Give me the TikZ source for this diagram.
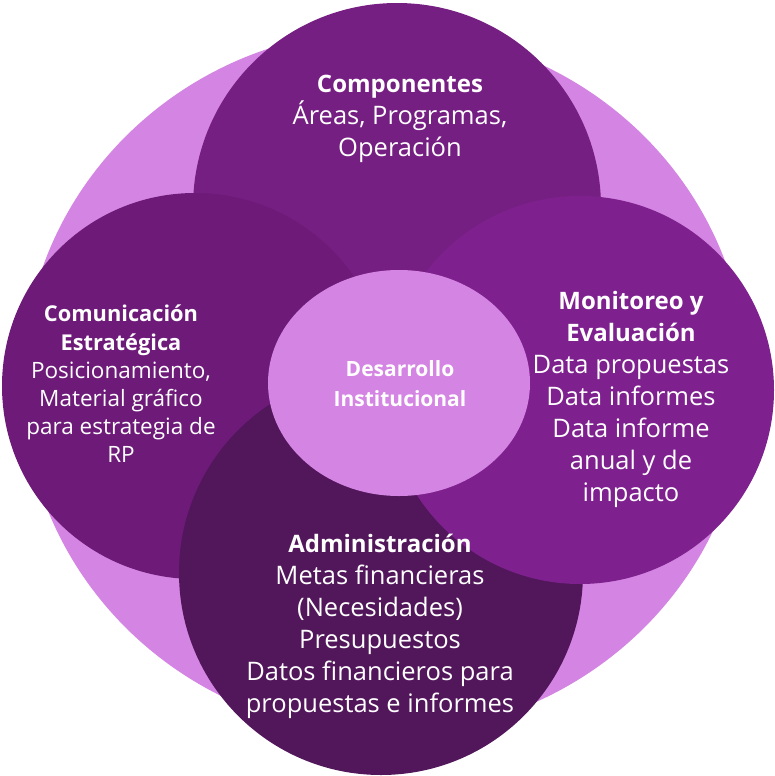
\documentclass[tikz,border=0pt]{standalone}
\usepackage{fontspec}
\setmainfont{Open Sans}
\definecolor{lilac}{HTML}{D484E2}
\definecolor{plumTop}{HTML}{761F82}
\definecolor{plumLeft}{HTML}{6D1A79}
\definecolor{plumRight}{HTML}{7E208E}
\definecolor{plumBottom}{HTML}{52165B}
\newcommand{\bighead}[1]{{\bfseries\fontsize{24}{32}\selectfont #1}}
\newcommand{\smallhead}[1]{{\bfseries\fontsize{21.8}{28.2}\selectfont #1}}

\begin{document}
\begin{tikzpicture}[x=1pt, y=-1pt, every node/.style={align=center, text=white, inner sep=0pt},
    bigtxt/.style={font=\fontsize{25.5}{32}\selectfont},
    smalltxt/.style={font=\fontsize{22.5}{28.2}\selectfont}]
    \useasboundingbox (0,0) rectangle (775,776);
    % backdrop and the four overlapping circles
    \fill[lilac] (385,382) ellipse [x radius=362pt, y radius=352pt];
    \fill[plumTop] (397,207) circle [radius=204pt];
    \fill[plumLeft] (195,386) circle [radius=193pt];
    \fill[plumBottom] (381,573) circle [radius=202pt];
    \fill[plumRight] (580,390) circle [radius=194pt];
    \fill[lilac] (399,383) ellipse [x radius=131pt, y radius=113pt];
    % labels
    \node[bigtxt] (comp) at (400,119) {\bighead{Componentes}\\Áreas, Programas,\\Operación};
    \node[smalltxt] (comm) at (121,384) {\smallhead{Comunicación}\\\smallhead{Estratégica}\\Posicionamiento,\\Material gráfico\\para estrategia de\\RP};
    \node[bigtxt] (moni) at (631,399) {\bighead{Monitoreo y}\\\bighead{Evaluación}\\Data propuestas\\Data informes\\Data informe\\anual y de\\impacto};
    \node[bigtxt] (admin) at (380,626) {\bighead{Administración}\\Metas financieras\\(Necesidades)\\Presupuestos\\Datos financieros para\\propuestas e informes};
    \node[font=\bfseries\fontsize{21}{30}\selectfont] (core) at (400,384) {Desarrollo\\Institucional};
\end{tikzpicture}
\end{document}
